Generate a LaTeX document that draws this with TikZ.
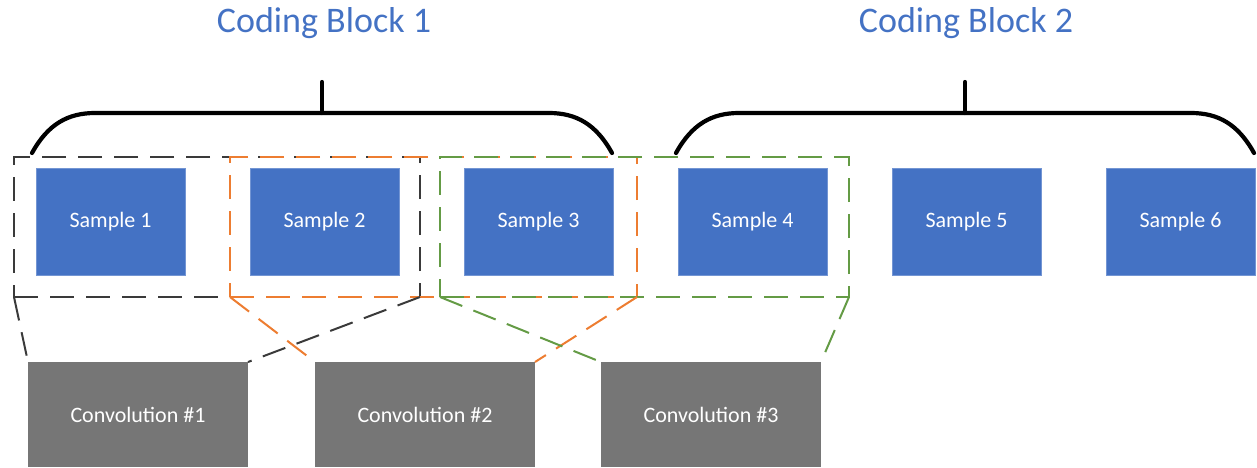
\documentclass[tikz,border=0pt]{standalone}
\usepackage{fontspec}
\setmainfont{Carlito}
\definecolor{oblue}{HTML}{4472C4}
\definecolor{ogray}{HTML}{767676}
\definecolor{oorange}{HTML}{ED7D31}
\definecolor{ogreen}{HTML}{649B45}
\definecolor{odark}{HTML}{3A3A3A}
\tikzset{
  samplebox/.style={fill=oblue, draw=oblue!75!white, line width=0.8pt, minimum width=149pt, minimum height=107pt, inner sep=0pt, outer sep=0pt, text=white, font=\fontsize{22}{26}\selectfont},
  convbox/.style={fill=ogray, minimum width=220pt, minimum height=105pt, inner sep=0pt, outer sep=0pt, text=white, font=\fontsize{22}{26}\selectfont},
  groupbox/.style={draw, line width=2.5pt, dash pattern=on 24pt off 12pt, minimum height=140pt, inner sep=0pt, outer sep=0pt},
  linkline/.style={line width=2pt, dash pattern=on 24pt off 12pt},
  bracket/.style={line width=4.2pt, line cap=round},
  titletext/.style={text=oblue, font=\fontsize{36}{40}\selectfont, inner sep=0pt}
}
\begin{document}
\begin{tikzpicture}[x=1pt, y=-1pt]
\useasboundingbox (0,0) rectangle (1257,467);
% titles
\node[titletext] (t1) at (324,23) {Coding Block 1};
\node[titletext] (t2) at (966,23) {Coding Block 2};
% brackets
\draw[bracket] (32,153) .. controls (48,124) and (68,113) .. (95,113) -- (549,113) .. controls (576,113) and (596,124) .. (612,153);
\draw[bracket] (322,113) -- (322,82);
\draw[bracket] (676,153) .. controls (692,124) and (712,113) .. (739,113) -- (1191,113) .. controls (1218,113) and (1238,124) .. (1254,153);
\draw[bracket] (965,113) -- (965,82);
% samples
\node[samplebox] (s1) at (110.5,221.5) {Sample 1};
\node[samplebox] (s2) at (324.5,221.5) {Sample 2};
\node[samplebox] (s3) at (538.5,221.5) {Sample 3};
\node[samplebox] (s4) at (752.5,221.5) {Sample 4};
\node[samplebox] (s5) at (966.5,221.5) {Sample 5};
\node[samplebox] (s6) at (1180.5,221.5) {Sample 6};
% group boxes
\node[groupbox, draw=odark, minimum width=406pt] (kb) at (217,227) {};
\node[groupbox, draw=oorange, minimum width=407pt] (ob) at (433.5,227) {};
\node[groupbox, draw=ogreen, minimum width=409pt] (gb) at (644.5,227) {};
% convolutions
\node[convbox] (c1) at (138,414.5) {Convolution \#1};
\node[convbox] (c2) at (425,414.5) {Convolution \#2};
\node[convbox] (c3) at (711,414.5) {Convolution \#3};
% links
\draw[linkline, draw=odark] (kb.south west) -- (c1.north west);
\draw[linkline, draw=odark] (kb.south east) -- (c1.north east);
\draw[linkline, draw=oorange] (ob.south west) -- (c2.north west);
\draw[linkline, draw=oorange] (ob.south east) -- (c2.north east);
\draw[linkline, draw=ogreen] (gb.south west) -- (c3.north west);
\draw[linkline, draw=ogreen] (gb.south east) -- (c3.north east);
\end{tikzpicture}
\end{document}
